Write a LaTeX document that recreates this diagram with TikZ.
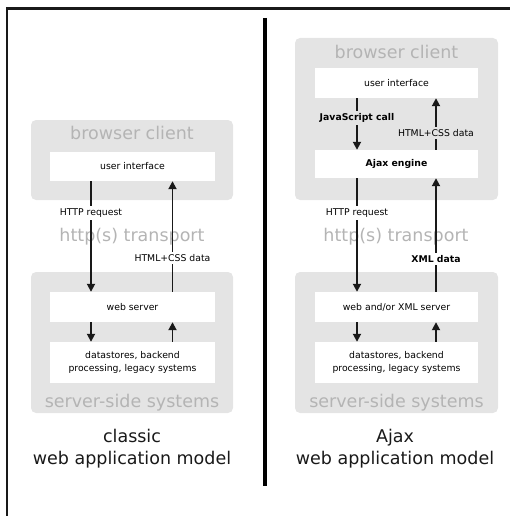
\documentclass[tikz,border=0pt]{standalone}
\usepackage{fontspec}
\setmainfont{DejaVu Sans}
\usetikzlibrary{arrows.meta}
\definecolor{boxgray}{HTML}{E4E4E4}
\definecolor{txtgray}{HTML}{B4B4B4}
\begin{document}
\begin{tikzpicture}[x=1pt,y=-1pt,
  panel/.style={fill=boxgray, rounded corners=5pt, inner sep=0pt},
  inner/.style={fill=white, inner sep=0pt, font=\fontsize{9.3}{13}\selectfont, align=center},
  big/.style={text=txtgray, font=\fontsize{17.5}{20}\selectfont, inner sep=0pt},
  lbl/.style={font=\fontsize{9.3}{11}\selectfont, inner sep=2.5pt},
  blbl/.style={lbl, font=\fontsize{9.3}{11}\bfseries\selectfont},
  seg/.style={line width=1.8pt, draw=black!90},
  arr/.style={seg, -{Triangle[length=8pt,width=8pt]}},
  title/.style={font=\fontsize{17.5}{22}\selectfont, text=black!90, align=center, inner sep=0pt}]
\useasboundingbox (0,0) rectangle (510,516);
% frame and divider
\draw[line width=2.5pt, black!90] (7.2,516) -- (7.2,8.7) -- (510,8.7);
\draw[line width=3.5pt, black] (265,18) -- (265,486);

% ---------- classic model ----------
\node[panel, minimum width=202pt, minimum height=80pt] (bcL) at (132,160) {};
\node[big] (bcLt) at (132,133) {browser client};
\node[inner, minimum width=165pt, minimum height=29pt] (uiL) at (132.5,166.5) {user interface};
\node[panel, minimum width=202pt, minimum height=141pt] (ssL) at (132,342.5) {};
\node[inner, minimum width=165pt, minimum height=30pt] (wsL) at (132.5,307) {web server};
\node[inner, minimum width=165pt, minimum height=41pt] (dsL) at (132.5,362.5) {datastores, backend\\processing, legacy systems};
\node[big] (ssLt) at (132,403) {server-side systems};
\node[big] (trL) at (132,237) {http(s) transport};
\node[lbl] (reqL) at (91,213) {HTTP request};
\node[lbl] (resL) at (172.5,258) {HTML+CSS data};
\draw[seg] (uiL.south -| reqL) -- (reqL.north);
\draw[arr] (reqL.south) -- (reqL |- wsL.north);
\draw[seg] (wsL.north -| resL) -- (resL.south);
\draw[arr] (resL.north) -- (resL |- uiL.south);
\draw[arr] (wsL.south -| reqL) -- (dsL.north -| reqL);
\draw[arr] (dsL.north -| resL) -- (wsL.south -| resL);
\node[title] (tL) at (132,449) {classic\\web application model};

% ---------- Ajax model ----------
\node[panel, minimum width=203pt, minimum height=162pt] (bcR) at (396.5,119) {};
\node[big] (bcRt) at (396.5,52) {browser client};
\node[inner, minimum width=163pt, minimum height=30pt] (uiR) at (396.5,83) {user interface};
\node[inner, minimum width=163pt, minimum height=28pt, font=\fontsize{9.3}{13}\bfseries\selectfont] (ajR) at (396.5,164) {Ajax engine};
\node[panel, minimum width=203pt, minimum height=141pt] (ssR) at (396.5,342.5) {};
\node[inner, minimum width=163pt, minimum height=30pt] (wsR) at (396.5,307) {web and/or XML server};
\node[inner, minimum width=163pt, minimum height=41pt] (dsR) at (396.5,362.5) {datastores, backend\\processing, legacy systems};
\node[big] (ssRt) at (396.5,403) {server-side systems};
\node[big] (trR) at (396,237) {http(s) transport};
\node[blbl] (jsR) at (357,118) {JavaScript call};
\node[lbl] (hcR) at (436,133) {HTML+CSS data};
\node[lbl] (reqR) at (357,213) {HTTP request};
\node[blbl] (xmR) at (436,259) {XML data};
\draw[seg] (uiR.south -| jsR) -- (jsR.north);
\draw[arr] (jsR.south) -- (jsR |- ajR.north);
\draw[seg] (ajR.north -| hcR) -- (hcR.south);
\draw[arr] (hcR.north) -- (hcR |- uiR.south);
\draw[seg] (ajR.south -| reqR) -- (reqR.north);
\draw[arr] (reqR.south) -- (reqR |- wsR.north);
\draw[seg] (wsR.north -| xmR) -- (xmR.south);
\draw[arr] (xmR.north) -- (xmR |- ajR.south);
\draw[arr] (wsR.south -| reqR) -- (dsR.north -| reqR);
\draw[arr] (dsR.north -| xmR) -- (wsR.south -| xmR);
\node[title] (tR) at (395,449) {Ajax\\web application model};
\end{tikzpicture}
\end{document}
